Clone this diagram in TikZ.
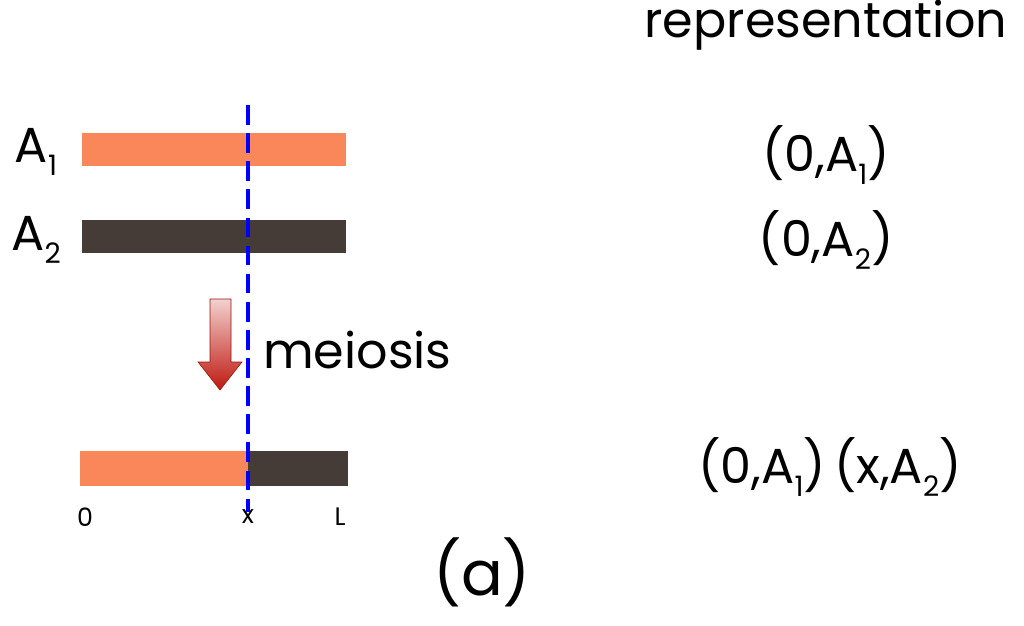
\documentclass[tikz,border=0pt]{standalone}
\usepackage{fontspec}
\setmainfont{Poppins}
\usepackage{tikz}
\usetikzlibrary{positioning}

\definecolor{salmon}{RGB}{250,135,90}
\definecolor{darkbar}{RGB}{70,60,55}
\definecolor{arrowred}{RGB}{190,25,15}
\newcommand{\lowsub}[1]{\raisebox{-0.25em}{\fontsize{20}{22}\selectfont #1}}

\begin{document}
\begin{tikzpicture}[x=0.025cm,y=-0.025cm,
  lab/.style={font=\fontsize{35}{40}\selectfont, inner sep=0pt},
  small/.style={font=\fontsize{18}{20}\selectfont, inner sep=0pt}]

\useasboundingbox (0,0) rectangle (1024,625);

% bars
\fill[salmon] (82,133) rectangle (346,166);
\fill[darkbar] (82,220) rectangle (346,253);
\fill[salmon] (80,451) rectangle (248,486);
\fill[darkbar] (248,451) rectangle (348,486);

% crossover point
\coordinate (top) at (248,105);
\coordinate (bot) at (248,512);
\draw[blue, line width=2.4pt, dash pattern=on 14pt off 6pt] (top) -- (bot);

% labels
\node[lab] (a1) at (36,152) {A\lowsub{1}};
\node[lab] (a2) at (36,240) {A\lowsub{2}};
\node[small] (zero) at (85,517) {0};
\node[small] (ex) at (248,517) {x};
\node[small] (ell) at (340,517) {L};

% meiosis arrow
\shade[top color=arrowred!20, bottom color=arrowred, draw=arrowred!80!black]
  (210,299) -- (231,299) -- (231,362) -- (242,362) -- (220,390)
  -- (198,362) -- (210,362) -- cycle;
\node[lab, anchor=west] (meiosis) at (263,350) {meiosis};

% representation
\node[lab] (rep) at (826,25) {representation};
\node[lab] (r1) at (826,155) {(0,A\lowsub{1})};
\node[lab] (r2) at (826,240) {(0,A\lowsub{2})};
\node[lab] (r3) at (830,467) {(0,A\lowsub{1})\,(x,A\lowsub{2})};

\node[font=\fontsize{44}{50}\selectfont, inner sep=0pt] (cap) at (482,572) {(a)};
\end{tikzpicture}
\end{document}
